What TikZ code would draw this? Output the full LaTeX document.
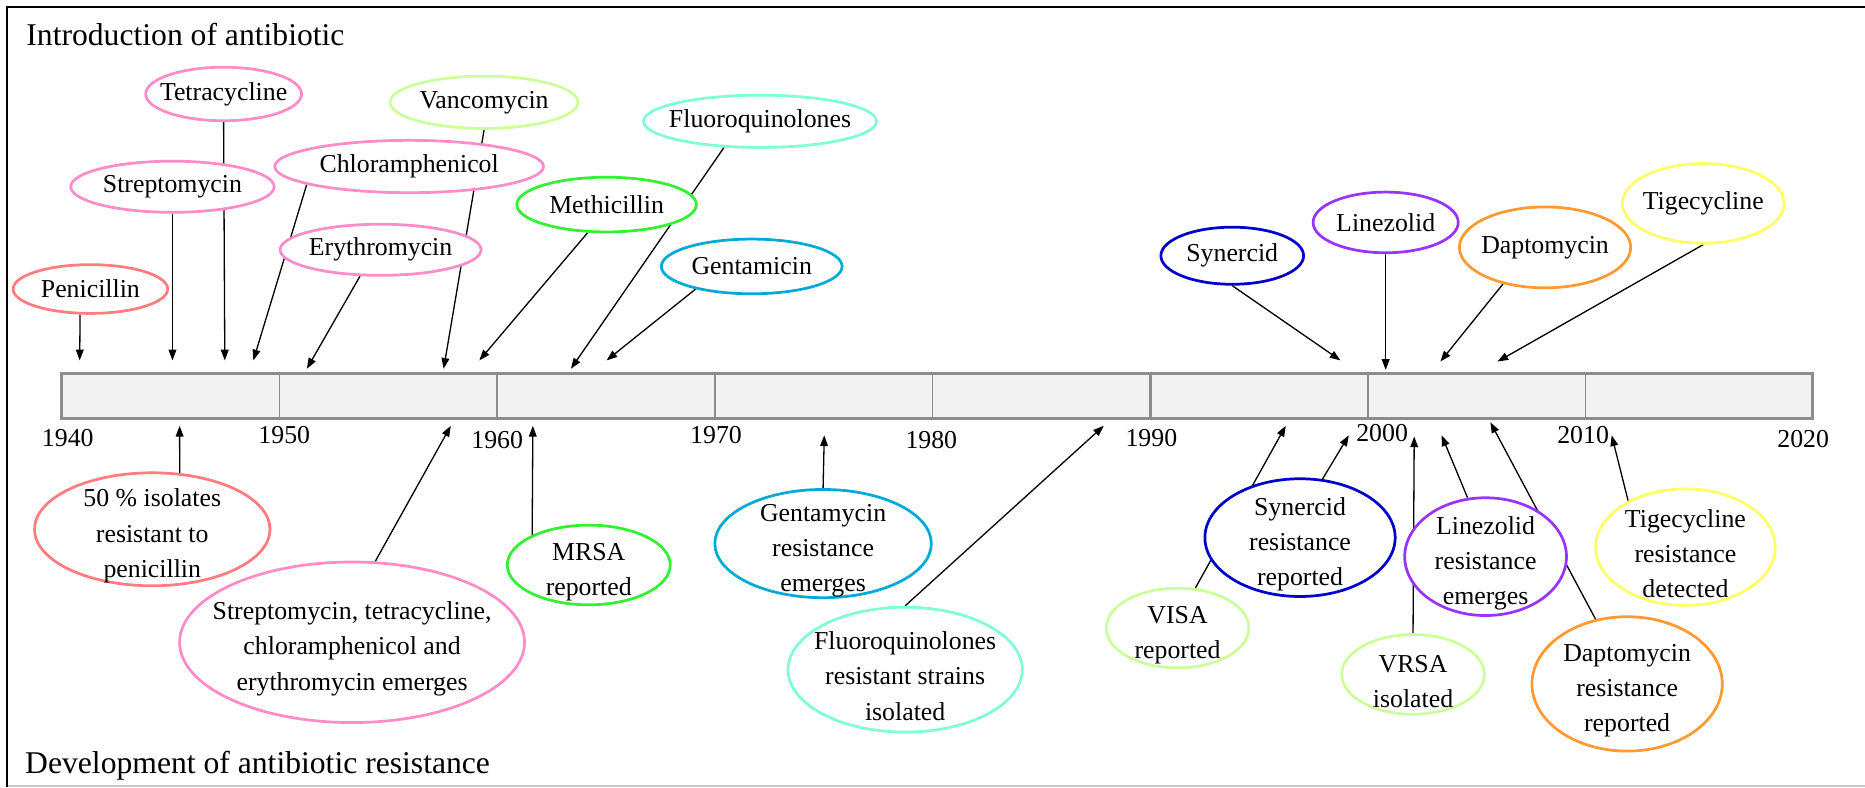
\documentclass[tikz,border=0pt]{standalone}
\usepackage{fontspec}
\setmainfont{Liberation Serif}
\usetikzlibrary{shapes.geometric,arrows.meta,backgrounds}
\definecolor{cSalmon}{RGB}{255,124,128}
\definecolor{cPink}{RGB}{255,140,200}
\definecolor{cLime}{RGB}{204,255,153}
\definecolor{cGreen}{RGB}{51,240,51}
\definecolor{cAqua}{RGB}{127,255,212}
\definecolor{cCyan}{RGB}{0,170,214}
\definecolor{cBlue}{RGB}{0,0,204}
\definecolor{cPurple}{RGB}{153,51,255}
\definecolor{cOrange}{RGB}{255,153,51}
\definecolor{cYellow}{RGB}{255,255,102}
\definecolor{cBarFill}{RGB}{242,242,242}
\definecolor{cBarLine}{RGB}{140,140,140}
\definecolor{cFrameB}{RGB}{200,200,200}
\newcommand\evfont{\fontsize{21.7}{29.5}\selectfont}
\newcommand\ttlfont{\fontsize{26.6}{30}\selectfont}
\newcommand\dn{\rule{0pt}{26pt}}
\begin{document}
\begin{tikzpicture}[x=1pt,y=-1pt,
  ev/.style={ellipse, draw=#1, line width=2.3pt, fill=white, inner sep=-300pt, font=\evfont, align=center, text=black},
  arr/.style={-{Triangle[length=9pt,width=6.5pt]}, line width=1.1pt},
  yr/.style={font=\evfont, inner sep=0pt},
  ttl/.style={font=\ttlfont, inner sep=0pt, anchor=base west},
  div/.style={draw=cBarLine, line width=1.3pt}]

\useasboundingbox (0,0) rectangle (1568,662);

% frame
\draw[cFrameB, line width=1.3pt] (6,660.8) -- (1568,660.8);
\draw[line width=1.8pt] (6,661.5) -- (6,5.8) -- (1568,5.8);

% titles
\node[ttl] (intro) at (22,38) {Introduction of antibiotic};
\node[ttl] (devel) at (21,650) {Development of antibiotic resistance};

% timeline bar
\node[draw=cBarLine, fill=cBarFill, line width=2.3pt, minimum width=1472pt, minimum height=38pt, inner sep=0pt, outer sep=0pt, anchor=north west] (bar) at (52,314) {};
\foreach \x in {235,418,601,784,1150,1333} \draw[div] (\x,314) -- (\x,352);
\draw[div, line width=2.3pt] (967,314) -- (967,352);

% years
\node[yr] (y1940) at (57,368) {1940};
\node[yr] (y1950) at (239,366) {1950};
\node[yr] (y1960) at (418,370) {1960};
\node[yr] (y1970) at (602,366) {1970};
\node[yr] (y1980) at (783,370) {1980};
\node[yr] (y1990) at (968,368) {1990};
\node[yr] (y2000) at (1162,364) {2000};
\node[yr] (y2010) at (1331,366) {2010};
\node[yr] (y2020) at (1516,369) {2020};

% introductions
\node[ev=cSalmon, minimum width=130pt, minimum height=41pt] (pen) at (76,243) {Penicillin};
\node[ev=cPink, minimum width=171pt, minimum height=43pt] (str) at (145,157) {Streptomycin};
\node[ev=cPink, minimum width=131pt, minimum height=45pt] (tet) at (188,79) {Tetracycline};
\node[ev=cPink, minimum width=226pt, minimum height=44pt] (chl) at (344,140) {Chloramphenicol};
\node[ev=cPink, minimum width=169pt, minimum height=43pt] (ery) at (320,210) {Erythromycin};
\node[ev=cLime, minimum width=158pt, minimum height=44pt] (van) at (407,86) {Vancomycin};
\node[ev=cGreen, minimum width=151pt, minimum height=46pt] (met) at (510,172) {Methicillin};
\node[ev=cAqua, minimum width=196pt, minimum height=44pt] (flu) at (639,102) {Fluoroquinolones};
\node[ev=cCyan, minimum width=152pt, minimum height=46pt] (gen) at (632,224) {Gentamicin};
\node[ev=cBlue, minimum width=120pt, minimum height=48pt] (syn) at (1036,215) {Synercid};
\node[ev=cPurple, minimum width=122pt, minimum height=51pt] (lin) at (1165,187) {Linezolid};
\node[ev=cOrange, minimum width=144pt, minimum height=68pt] (dap) at (1299,208) {Daptomycin};
\node[ev=cYellow, minimum width=136pt, minimum height=67pt] (tig) at (1432,171) {Tigecycline};

% resistance
\node[ev=cSalmon, minimum width=198pt, minimum height=95pt] (fifty) at (128,445) {\dn 50 \% isolates\\resistant to\\penicillin};
\node[ev=cPink, minimum width=290pt, minimum height=135pt] (sres) at (296,540) {\dn Streptomycin, tetracycline,\\chloramphenicol and\\erythromycin emerges};
\node[ev=cGreen, minimum width=137pt, minimum height=67pt] (mrsa) at (495,475) {\dn MRSA\\reported};
\node[ev=cCyan, minimum width=182pt, minimum height=91pt] (genr) at (692,457) {\dn Gentamycin\\resistance\\emerges};
\node[ev=cAqua, minimum width=197pt, minimum height=105pt] (flur) at (761,563) {\dn Fluoroquinolones\\resistant strains\\isolated};
\node[ev=cLime, minimum width=120pt, minimum height=67pt] (visa) at (990,528) {\dn VISA\\reported};
\node[ev=cBlue, minimum width=160pt, minimum height=99pt] (synr) at (1093,452) {\dn Synercid\\resistance\\reported};
\node[ev=cLime, minimum width=120pt, minimum height=67pt] (vrsa) at (1188,567) {\dn VRSA\\isolated};
\node[ev=cPurple, minimum width=136pt, minimum height=99pt] (linr) at (1249,468) {\dn Linezolid\\resistance\\emerges};
\node[ev=cOrange, minimum width=160pt, minimum height=113pt] (dapr) at (1368,575) {\dn Daptomycin\\resistance\\reported};
\node[ev=cYellow, minimum width=151pt, minimum height=98pt] (tigr) at (1417,460) {\dn Tigecycline\\resistance\\detected};

% arrow targets
\coordinate (tpen) at (67,303);
\coordinate (tstr) at (145,303);
\coordinate (ttet) at (189,303);
\coordinate (tchl) at (213,303);
\coordinate (tery) at (258,310);
\coordinate (tvan) at (373,310);
\coordinate (tmet) at (403,303);
\coordinate (tflu) at (480,310);
\coordinate (tgen) at (510,303);
\coordinate (tsyn) at (1127,303);
\coordinate (tlin) at (1165,311);
\coordinate (tdap) at (1211,304);
\coordinate (ttig) at (1259,304);
\coordinate (tfifty) at (151,358);
\coordinate (tsres) at (379,358);
\coordinate (tmrsa) at (448,358);
\coordinate (tgenr) at (693,366);
\coordinate (tflur) at (928,358);
\coordinate (tvisa) at (1081,358);
\coordinate (tsynr) at (1134,366);
\coordinate (tvrsa) at (1189,367);
\coordinate (tlinr) at (1212,366);
\coordinate (tdapr) at (1253,355);
\coordinate (ttigr) at (1355,366);

\begin{scope}[on background layer]
\draw[arr] (pen.248) -- (tpen);
\draw[arr] (str.south) -- (tstr);
\draw[arr] (tet.south) -- (ttet);
\draw[arr] (chl.190) -- (tchl);
\draw[arr] (ery.232) -- (tery);
\draw[arr] (van.south) -- (tvan);
\draw[arr] (met.236) -- (tmet);
\draw[arr] (flu.216) -- (tflu);
\draw[arr] (gen.202) -- (tgen);
\draw[arr] (syn.south) -- (tsyn);
\draw[arr] (lin.south) -- (tlin);
\draw[arr] (dap.221) -- (tdap);
\draw[arr] (tig.south) -- (ttig);
\draw[arr] (fifty.64) -- (tfifty);
\draw[arr] (sres.74) -- (tsres);
\draw[arr] (mrsa.152) -- (tmrsa);
\draw[arr] (genr.north) -- (tgenr);
\draw[arr] (flur.north) -- (tflur);
\draw[arr] (visa.66) -- (tvisa);
\draw[arr] (synr.69) -- (tsynr);
\draw[arr] (vrsa.north) -- (tvrsa);
\draw[arr] (linr.107) -- (tlinr);
\draw[arr] (dapr.116) -- (tdapr);
\draw[arr] (tigr.141) -- (ttigr);
\end{scope}
\end{tikzpicture}
\end{document}
